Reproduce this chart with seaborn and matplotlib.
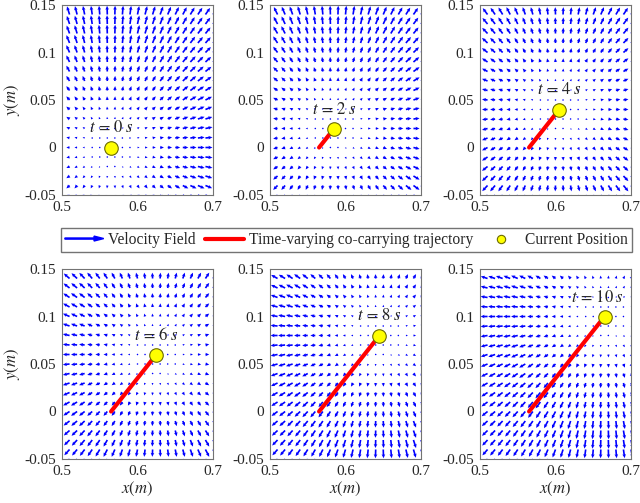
import numpy as np
import matplotlib
matplotlib.use('Agg')
import matplotlib.pyplot as plt
import matplotlib.patches as mpatches
from matplotlib.legend_handler import HandlerPatch
from matplotlib.lines import Line2D
import seaborn as sns

# data
times = [0, 2, 4, 6, 8, 10]
pos_x = [0.565, 0.585, 0.605, 0.625, 0.645, 0.665]
pos_y = [0.0, 0.02, 0.04, 0.06, 0.08, 0.10]
start_x = 0.565
start_y = 0.0
grid_x = np.linspace(0.5, 0.7, 21)
grid_y = np.linspace(-0.05, 0.15, 21)
x_ticks = [0.5, 0.6, 0.7]
x_ticklabels = ['0.5', '0.6', '0.7']
y_ticks = [-0.05, 0, 0.05, 0.1, 0.15]
y_ticklabels = ['-0.05', '0', '0.05', '0.1', '0.15']
legend_labels = ['Velocity Field', 'Time-varying co-carrying trajectory', 'Current Position']

sns.set_style('white')
plt.rcParams['font.family'] = ['Liberation Serif', 'DejaVu Serif']
plt.rcParams['mathtext.fontset'] = 'stix'
plt.rcParams['axes.unicode_minus'] = False

fig = plt.figure(figsize=(6.4, 5.03), dpi=100)
W, H = 640, 503
lefts = [62, 270, 480]
tops = [5, 269]
aw, ah = 151, 190

X, Y = np.meshgrid(grid_x, grid_y)

for i, t in enumerate(times):
    r, c = divmod(i, 3)
    ax = fig.add_axes([lefts[c] / W, 1 - (tops[r] + ah) / H, aw / W, ah / H])

    # radial field around the current position (saturated magnitude)
    dx = X - pos_x[i]
    dy = Y - pos_y[i]
    d = np.hypot(dx, dy)
    mag = np.minimum(d, 0.12)
    safe = np.where(d > 0, d, 1)
    U = dx / safe * mag
    V = dy / safe * mag
    ax.quiver(X, Y, U, V, color='blue', angles='xy', scale_units='xy', scale=13,
              width=0.011, headwidth=2.2, headlength=2.4, headaxislength=2.1, zorder=2)

    if i > 0:
        sns.lineplot(x=[start_x, pos_x[i]], y=[start_y, pos_y[i]], sort=False,
                     color='red', linewidth=3, ax=ax, zorder=3, legend=False)
    sns.scatterplot(x=[pos_x[i]], y=[pos_y[i]], color='yellow', edgecolor='#6b6b00',
                    linewidth=0.8, s=95, ax=ax, zorder=4, legend=False)

    lx = min(pos_x[i], 0.655)
    ax.text(lx, pos_y[i] + 0.02, rf'$t\,=\,{t}\;s$', ha='center', va='center',
            fontsize=12, zorder=5)

    ax.set_xlim(0.5, 0.7)
    ax.set_ylim(-0.05, 0.15)
    ax.set_xticks(x_ticks)
    ax.set_xticklabels(x_ticklabels)
    ax.set_yticks(y_ticks)
    ax.set_yticklabels(y_ticklabels)
    ax.tick_params(direction='in', length=3, width=0.6, color='0.4', labelsize=11, pad=4)
    for sp in ax.spines.values():
        sp.set_color('0.45')
        sp.set_linewidth(0.8)
    ax.set_xlabel('')
    ax.set_ylabel('')
    if c == 0:
        ax.set_ylabel('$y(m)$', fontsize=12, labelpad=2)
    if r == 1:
        ax.set_xlabel('$x(m)$', fontsize=12, labelpad=2)


def make_arrow(legend, orig_handle, xdescent, ydescent, width, height, fontsize):
    return mpatches.FancyArrow(-xdescent, height / 2 - ydescent, width, 0,
                               width=0.8, head_width=height * 0.45,
                               head_length=width * 0.25, length_includes_head=True,
                               color='blue')


handles = [
    mpatches.FancyArrow(0, 0, 1, 0, color='blue'),
    Line2D([], [], color='red', linewidth=3),
    Line2D([], [], color='yellow', marker='o', markeredgecolor='#6b6b00',
           markeredgewidth=0.8, markersize=6, linestyle='none'),
]
fig.legend(handles, legend_labels, loc='center',
           bbox_to_anchor=(61 / W, 1 - 251 / H, 571 / W, 22 / H),
           mode='expand', ncol=3, frameon=True, fancybox=False, framealpha=1,
           edgecolor='0.45', fontsize=11.2, handlelength=2.5, handletextpad=0.3,
           borderaxespad=0, borderpad=0.25,
           handler_map={mpatches.FancyArrow: HandlerPatch(patch_func=make_arrow)})

fig.savefig('out.png', dpi=100)
